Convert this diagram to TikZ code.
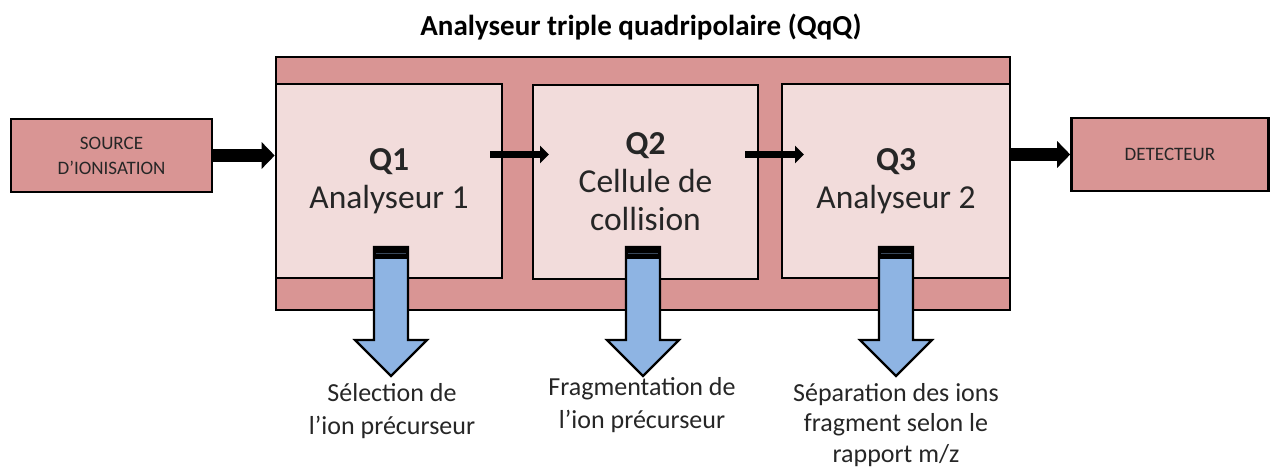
\documentclass[tikz,border=0pt]{standalone}
\usepackage{fontspec}
\setmainfont{Carlito}
\usetikzlibrary{arrows.meta}
\definecolor{outerred}{HTML}{D99594}
\definecolor{innerpink}{HTML}{F2DCDB}
\definecolor{arrowblue}{HTML}{8EB4E3}
\definecolor{txtgray}{HTML}{262626}
\begin{document}
\begin{tikzpicture}[x=1pt,y=-1pt,
  outerbox/.style={draw=black, line width=2.6pt, fill=outerred, minimum width=734pt, minimum height=253pt, inner sep=0pt},
  qbox/.style={draw=black, line width=2.6pt, fill=innerpink, minimum height=194pt, inner sep=0pt, align=center, text=txtgray, font=\fontsize{33.5}{38}\selectfont},
  endbox/.style={draw=black, line width=2.6pt, fill=outerred, minimum width=200pt, minimum height=73pt, inner sep=0pt, align=center, text=txtgray, font=\fontsize{19}{25}\selectfont},
  bigarrow/.style={line width=13pt, -{Triangle[width=26pt,length=13pt]}},
  smallarrow/.style={line width=7pt, -{Triangle[width=17pt,length=9pt]}},
  bottomtext/.style={anchor=north, align=center, text=txtgray, inner sep=0pt, font=\fontsize{26}{33}\selectfont},
  downarrow/.pic={
    \draw[fill=arrowblue, line width=2.2pt, line join=miter]
      (-17,0) -- (17,0) -- (17,93) -- (36,93) -- (0,129) -- (-36,93) -- (-17,93) -- cycle;
    \fill[black] (-18,-1) rectangle (18,12);
    \draw[arrowblue!40!black, line width=0.8pt] (-15,6) -- (15,6);
  }]
\useasboundingbox (0,0) rectangle (1272,470);
\node[font=\bfseries\fontsize{29}{34}\selectfont, inner sep=0pt] (title) at (641,27) {Analyseur triple quadripolaire (QqQ)};
\node[outerbox] (outer) at (643,183.5) {};
\node[qbox, minimum width=226pt] (q1) at (389,181) {\textbf{Q1}\\Analyseur 1};
\node[qbox, minimum width=225pt] (q2) at (645.5,182) {\textbf{Q2}\\Cellule de\\collision};
\node[qbox, minimum width=228pt] (q3) at (896,181) {\textbf{Q3}\\Analyseur 2};
\node[endbox, minimum width=201pt] (src) at (111.5,155.5) {SOURCE\\D’IONISATION};
\node[endbox, minimum width=197pt] (det) at (1170,154.5) {DETECTEUR};
\coordinate (a12s) at (490,154.5);
\coordinate (a12e) at (549,154.5);
\coordinate (a23s) at (745,154.5);
\coordinate (a23e) at (804,154.5);
\draw[bigarrow] (src.east) -- (q1.west |- src.east);
\draw[smallarrow] (a12s) -- (a12e);
\draw[smallarrow] (a23s) -- (a23e);
\draw[bigarrow] (q3.east |- det.west) -- (det.west);
\pic at (391,247) {downarrow};
\pic at (643,247) {downarrow};
\pic at (896,247) {downarrow};
\node[bottomtext] (t1) at (392,383) {Sélection de\\l’ion précurseur};
\node[bottomtext] (t2) at (642,377) {Fragmentation de\\l’ion précurseur};
\node[bottomtext, font=\fontsize{26}{30.5}\selectfont] (t3) at (896,383) {Séparation des ions\\fragment selon le\\rapport m/z};
\end{tikzpicture}
\end{document}
